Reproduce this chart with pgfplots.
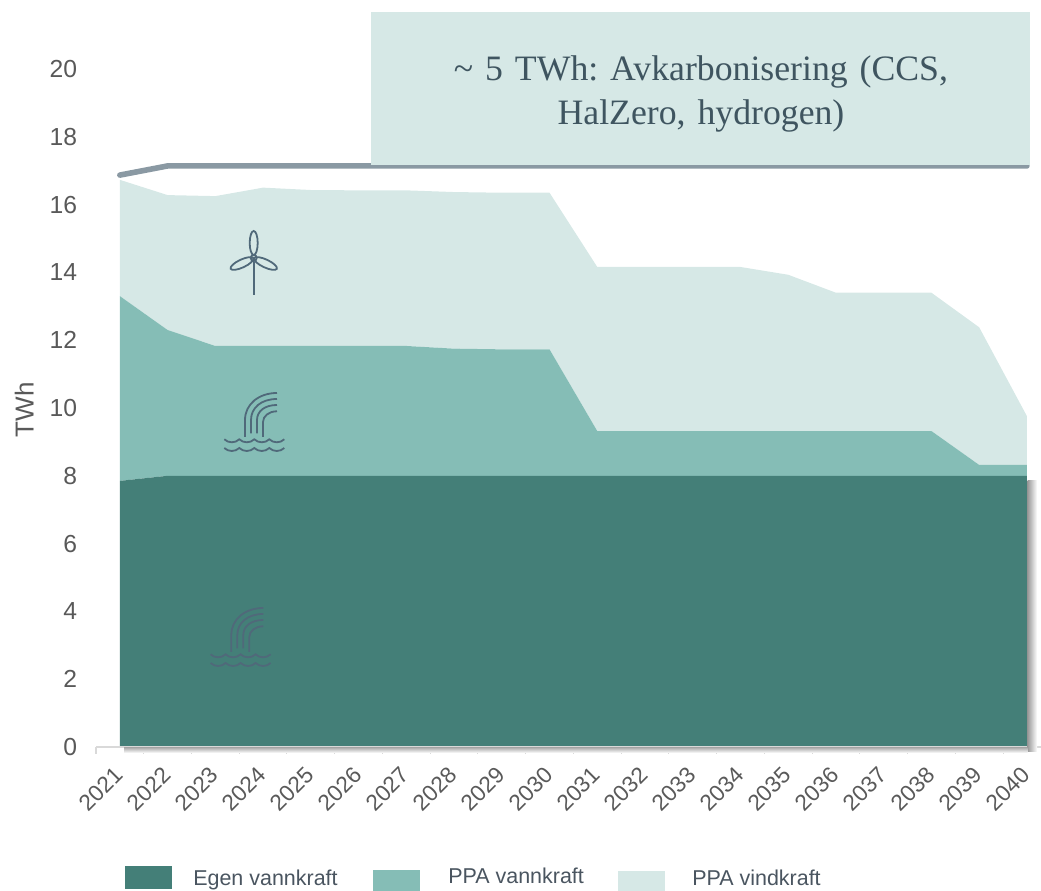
\documentclass[border=0pt]{standalone}
\usepackage{fontspec}
\setmainfont{Liberation Sans}
\newfontfamily\boxfont{Liberation Serif}
\usepackage{pgfplots}
\pgfplotsset{compat=1.18}
\definecolor{dark}{HTML}{447F78}
\definecolor{mid}{HTML}{85BDB6}
\definecolor{light}{HTML}{D6E8E6}
\definecolor{linegray}{HTML}{8A99A3}
\definecolor{ticktext}{HTML}{595959}
\definecolor{icon}{HTML}{50697A}
\definecolor{boxtext}{HTML}{3F5560}
\definecolor{legtext}{HTML}{4A5560}
\pgfplotstableread{
x egen vann vind total
0 7.85 5.45 3.43 16.87
1 8.00 4.30 3.98 17.14
2 8.00 3.83 4.42 17.14
3 8.00 3.83 4.67 17.14
4 8.00 3.83 4.60 17.14
5 8.00 3.83 4.59 17.14
6 8.00 3.83 4.59 17.14
7 8.00 3.75 4.62 17.14
8 8.00 3.73 4.62 17.14
9 8.00 3.73 4.62 17.14
10 8.00 1.32 4.84 17.14
11 8.00 1.32 4.84 17.14
12 8.00 1.32 4.84 17.14
13 8.00 1.32 4.84 17.14
14 8.00 1.32 4.61 17.14
15 8.00 1.32 4.08 17.14
16 8.00 1.32 4.08 17.14
17 8.00 1.32 4.08 17.14
18 8.00 0.32 4.06 17.14
19 8.00 0.32 1.44 17.14
}\datatable
\newcommand{\hydro}[3]{%
\begin{scope}[shift={(#1,#2)},draw=#3,line width=1.35pt]
\draw (0,0)--(0,-17) .. controls (0,-33) and (14,-44) .. (32,-44);
\draw (6,-3.7)--(6,-17) .. controls (6,-29) and (16,-38) .. (32,-38);
\draw (12,-3.7)--(12,-17) .. controls (12,-26) and (20,-32) .. (32,-32);
\draw (18,0)--(18,-15) .. controls (18,-21) and (24,-25.7) .. (32,-25.7);
\foreach \yy in {2.3,11} {
\draw (-20.7,\yy) .. controls +(4,4) and +(-4,4) .. +(15,0)
 .. controls +(4,4) and +(-4,4) .. +(30,0)
 .. controls +(4,4) and +(-4,4) .. +(45,0)
 .. controls +(4,4) and +(-4,4) .. +(60,0);
}
\end{scope}}
\begin{document}
\begin{tikzpicture}
\path[use as bounding box] (0,0) rectangle (780.75pt,668.25pt);
\begin{axis}[
  at={(72pt,108pt)}, anchor=south west,
  scale only axis, width=708.75pt, height=559.35pt,
  xmin=-0.5, xmax=19.295, ymin=0, ymax=22,
  axis x line=bottom, axis y line=left,
  axis line style={-, draw=black!15, line width=1pt},
  y axis line style={draw=none},
  stack plots=y, area style, clip=false,
  xtick={0,...,19},
  xticklabels={2021,2022,2023,2024,2025,2026,2027,2028,2029,2030,2031,2032,2033,2034,2035,2036,2037,2038,2039,2040},
  minor xtick={-0.5,0.5,...,19.5},
  major x tick style={draw=none},
  minor x tick style={draw=black!15, line width=0.8pt},
  minor tick length=5pt,
  tick align=outside,
  ytick={0,2,...,20},
  major y tick style={draw=none},
  major tick length=0pt,
  /pgf/number format/assume math mode=true,
  x tick label style={rotate=45, anchor=north east, font=\fontsize{17}{17}\selectfont, text=ticktext, inner sep=0pt, xshift=-13pt, yshift=-5.9pt},
  y tick label style={font=\fontsize{18.5}{18.5}\selectfont, text=ticktext, inner sep=0pt, xshift=-14pt},
  ylabel={TWh}, ylabel style={font=\fontsize{19.5}{19.5}\selectfont, text=ticktext, at={(axis description cs:-0.061,0.452)}, rotate=0},
]
\addplot[fill=dark, draw=none] table[x=x,y=egen] {\datatable} \closedcycle;
\addplot[fill=mid, draw=none] table[x=x,y=vann] {\datatable} \closedcycle;
\addplot[fill=light, draw=none] table[x=x,y=vind] {\datatable} \closedcycle;
\end{axis}
\begin{axis}[
  at={(72pt,108pt)}, anchor=south west,
  scale only axis, width=708.75pt, height=559.35pt,
  xmin=-0.5, xmax=19.295, ymin=0, ymax=22,
  axis lines=none, clip=false,
]
\addplot[linegray, line width=4.2pt, line cap=round, line join=round] table[x=x,y=total] {\datatable};
\end{axis}
\begin{scope}[x=0.75pt,y=-0.75pt,yshift=668.25pt]
 % box
 \fill[light] (371,12) rectangle (1030,165);
 \node[font=\boxfont\fontsize{26.8}{33}\selectfont, text=boxtext, align=center, text width=500pt] at (701,94) {\frenchspacing\textasciitilde{} 5 TWh: Avkarbonisering (CCS,\\HalZero, hydrogen)};
 % shadow
 \shade[left color=black!40, right color=white, shading angle=90] (1027.5,481) rectangle (1037,752);
 \shade[top color=black!30, bottom color=white] (124,748) rectangle (1027.5,753);
 % turbine
 \begin{scope}[draw=icon,line width=1.35pt]
 \draw (253.7,262)--(253.7,295);
 \draw (253.7,258) circle (3);
 \draw (253.7,243) ellipse (4 and 12);
 \draw[rotate around={25:(242,263.5)}] (242,263.5) ellipse (12.5 and 4);
 \draw[rotate around={-25:(265.5,263.5)}] (265.5,263.5) ellipse (12.5 and 4);
 \end{scope}
 \hydro{245}{437}{icon}
 \hydro{231.3}{652}{icon}
 % legend
 \fill[dark] (125,866) rectangle (172,889);
 \fill[mid] (373,870) rectangle (420,891);
 \fill[light] (618,871) rectangle (665,891);
 \begin{scope}[every node/.style={font=\fontsize{16.1}{16}\selectfont, text=legtext, anchor=base west, inner sep=0pt}]
 \node at (193,886) {Egen vannkraft};
 \node at (448,884) {PPA vannkraft};
 \node at (692,886) {PPA vindkraft};
 \end{scope}
\end{scope}
\end{tikzpicture}
\end{document}
